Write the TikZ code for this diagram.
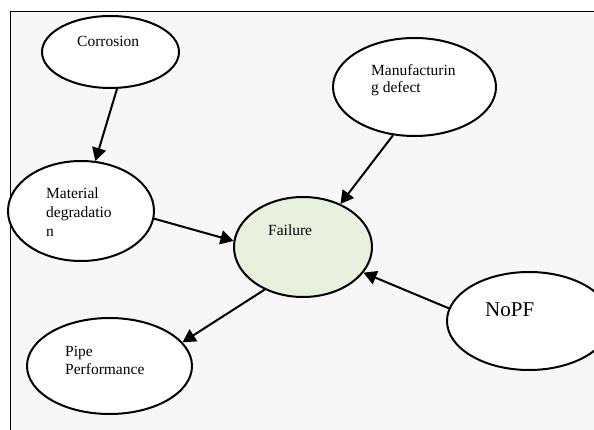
\documentclass[tikz,border=0pt]{standalone}
\usepackage{fontspec}
\setmainfont{Liberation Serif}
\usetikzlibrary{shapes.geometric,arrows.meta}
\definecolor{bgc}{HTML}{F7F7F7}
\definecolor{failfill}{HTML}{E9F0DD}
\begin{document}
\begin{tikzpicture}[x=1pt,y=-1pt,
  bubble/.style={ellipse, draw=black, line width=2pt, fill=white, inner sep=0pt},
  lbl/.style={anchor=base west, inner sep=0pt, font=\fontsize{15.5}{18.5}\selectfont},
  arr/.style={line width=2pt, -{Triangle[length=13pt,width=14pt]}}]
\useasboundingbox (0,0) rectangle (594,430);
\clip (0,0) rectangle (594,430);
\fill[white] (0,0) rectangle (594,430);
\draw[fill=bgc, line width=1pt] (10,12) rectangle (620,460);
% ellipses
\node[bubble, minimum width=137pt, minimum height=72pt] (cor) at (110.5,52) {};
\node[bubble, minimum width=146pt, minimum height=100pt] (mat) at (81,211) {};
\node[bubble, minimum width=163pt, minimum height=98pt] (man) at (414.5,87) {};
\node[bubble, fill=failfill, minimum width=138pt, minimum height=100pt] (fail) at (303,247) {};
\node[bubble, minimum width=165pt, minimum height=96pt] (pipe) at (109.5,366) {};
\node[bubble, minimum width=164pt, minimum height=98pt] (nopf) at (529,321) {};
% labels
\node[lbl] (tcor) at (77,47) {Corrosion};
\node[lbl] (tmat1) at (46,199) {Material};
\node[lbl] (tmat2) at (46,218) {degradatio};
\node[lbl] (tmat3) at (46,237) {n};
\node[lbl] (tman1) at (371,76) {Manufacturin};
\node[lbl] (tman2) at (371,93) {g defect};
\node[lbl] (tfail) at (268,236) {Failure};
\node[lbl] (tpipe1) at (65,356) {Pipe};
\node[lbl] (tpipe2) at (65,374) {Performance};
\node[lbl, font=\fontsize{21}{24}\selectfont] (tnopf) at (485,316) {NoPF};
% connectors
\draw[arr] (cor.-80) -- (mat.74);
\draw[arr] (man.-114) -- (fail.49);
\draw[arr] (mat.-6) -- (fail.175);
\draw[arr] (fail.228) -- (pipe.18);
\draw[arr] (nopf.171) -- (fail.-23);
\end{tikzpicture}
\end{document}
